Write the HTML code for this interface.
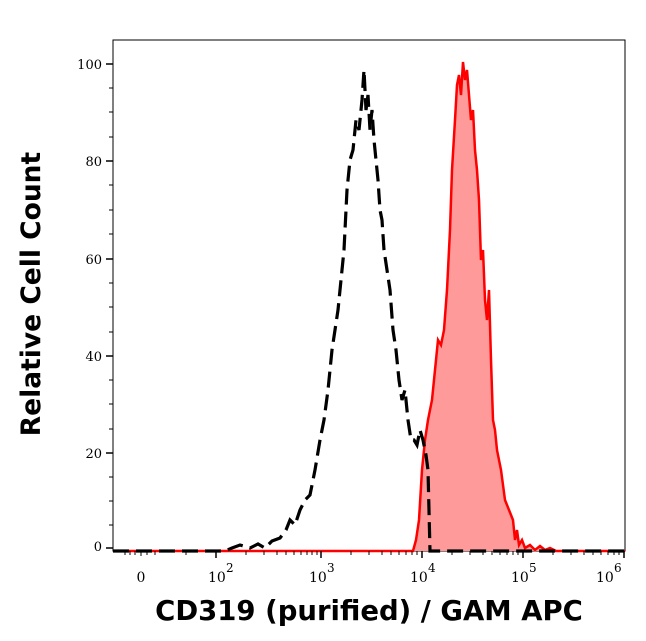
<!DOCTYPE html>
<html><head><meta charset="utf-8"><style>
body{margin:0;background:#fff;}
svg{display:block;font-family:"DejaVu Serif","Liberation Serif",serif;}
</style></head><body>
<svg width="646" height="641" viewBox="0 0 646 641" xmlns="http://www.w3.org/2000/svg">
<rect x="113" y="40" width="512" height="511" fill="none" stroke="#000" stroke-width="1"/>
<path d="M413,551 L416,540 L419,520 L422,470 L425,440 L428,420 L432,400 L435,370 L438,340 L441,345 L444,330 L447,290 L450,230 L452,170 L455,120 L457,85 L459,75 L461,95 L463,62 L465,80 L467,70 L469,95 L471,120 L473,110 L475,150 L477,170 L479,200 L481,260 L483,250 L485,300 L487,320 L489,290 L491,360 L493,420 L495,430 L497,450 L499,460 L501,470 L503,485 L505,500 L507,505 L509,510 L511,515 L513,520 L515,540 L517,530 L519,545 L522,540 L525,548 L530,545 L535,550 L540,546 L545,550 L550,548 L556,551 Z" fill="#ff9a9a" stroke="none"/>
<polyline points="113,551 413,551 416,540 419,520 422,470 425,440 428,420 432,400 435,370 438,340 441,345 444,330 447,290 450,230 452,170 455,120 457,85 459,75 461,95 463,62 465,80 467,70 469,95 471,120 473,110 475,150 477,170 479,200 481,260 483,250 485,300 487,320 489,290 491,360 493,420 495,430 497,450 499,460 501,470 503,485 505,500 507,505 509,510 511,515 513,520 515,540 517,530 519,545 522,540 525,548 530,545 535,550 540,546 545,550 550,548 556,551 625,551" fill="none" stroke="#f00" stroke-width="2.5"/>
<polyline points="113,551 225,551 232,548 240,545 250,548 258,544 265,548 272,541 280,538 286,530 290,520 295,525 300,510 305,500 310,495 315,470 320,440 324,420 328,390 332,350 335,330 338,310 341,280 344,250 347,190 350,160 353,150 356,120 359,130 362,100 364,70 366,110 368,95 370,130 372,110 374,140 376,160 378,180 380,210 382,220 384,250 387,270 390,290 393,330 396,350 399,380 402,400 405,390 408,420 411,440 414,440 417,445 420,430 423,440 426,455 428,470 430,551 440,551 625,551" fill="none" stroke="#000" stroke-width="3.2" stroke-dasharray="16,7"/>
<g stroke="#000" stroke-width="1.5">
<line x1="106" y1="64" x2="113" y2="64"/><line x1="106" y1="161" x2="113" y2="161"/><line x1="106" y1="259" x2="113" y2="259"/><line x1="106" y1="356" x2="113" y2="356"/><line x1="106" y1="453" x2="113" y2="453"/><line x1="106" y1="548" x2="113" y2="548"/>
</g>
<g stroke="#000" stroke-width="1">
<line x1="109" y1="88" x2="113" y2="88"/><line x1="109" y1="112" x2="113" y2="112"/><line x1="109" y1="137" x2="113" y2="137"/>
<line x1="109" y1="185" x2="113" y2="185"/><line x1="109" y1="210" x2="113" y2="210"/><line x1="109" y1="234" x2="113" y2="234"/>
<line x1="109" y1="283" x2="113" y2="283"/><line x1="109" y1="307" x2="113" y2="307"/><line x1="109" y1="332" x2="113" y2="332"/>
<line x1="109" y1="380" x2="113" y2="380"/><line x1="109" y1="404" x2="113" y2="404"/><line x1="109" y1="429" x2="113" y2="429"/>
<line x1="109" y1="477" x2="113" y2="477"/><line x1="109" y1="501" x2="113" y2="501"/><line x1="109" y1="525" x2="113" y2="525"/>
</g>
<g font-size="13" text-anchor="end" fill="#000">
<text x="102" y="69">100</text><text x="102" y="166">80</text><text x="102" y="264">60</text><text x="102" y="361">40</text><text x="102" y="458">20</text><text x="102" y="551">0</text>
</g>
<g stroke="#000" stroke-width="1.5">
<line x1="216" y1="551" x2="216" y2="558"/><line x1="321" y1="551" x2="321" y2="558"/><line x1="422" y1="551" x2="422" y2="558"/><line x1="523" y1="551" x2="523" y2="558"/><line x1="624" y1="551" x2="624" y2="558"/>
</g>
<g stroke="#000" stroke-width="1">
<line x1="246" y1="551" x2="246" y2="555"/><line x1="264" y1="551" x2="264" y2="555"/><line x1="277" y1="551" x2="277" y2="555"/><line x1="286" y1="551" x2="286" y2="555"/><line x1="294" y1="551" x2="294" y2="555"/><line x1="301" y1="551" x2="301" y2="555"/><line x1="307" y1="551" x2="307" y2="555"/><line x1="312" y1="551" x2="312" y2="555"/><line x1="317" y1="551" x2="317" y2="555"/>
<line x1="351" y1="551" x2="351" y2="555"/><line x1="369" y1="551" x2="369" y2="555"/><line x1="382" y1="551" x2="382" y2="555"/><line x1="391" y1="551" x2="391" y2="555"/><line x1="399" y1="551" x2="399" y2="555"/><line x1="406" y1="551" x2="406" y2="555"/><line x1="412" y1="551" x2="412" y2="555"/><line x1="417" y1="551" x2="417" y2="555"/>
<line x1="452" y1="551" x2="452" y2="555"/><line x1="470" y1="551" x2="470" y2="555"/><line x1="483" y1="551" x2="483" y2="555"/><line x1="492" y1="551" x2="492" y2="555"/><line x1="500" y1="551" x2="500" y2="555"/><line x1="507" y1="551" x2="507" y2="555"/><line x1="513" y1="551" x2="513" y2="555"/><line x1="518" y1="551" x2="518" y2="555"/>
<line x1="553" y1="551" x2="553" y2="555"/><line x1="571" y1="551" x2="571" y2="555"/><line x1="584" y1="551" x2="584" y2="555"/><line x1="593" y1="551" x2="593" y2="555"/><line x1="601" y1="551" x2="601" y2="555"/><line x1="608" y1="551" x2="608" y2="555"/><line x1="614" y1="551" x2="614" y2="555"/><line x1="619" y1="551" x2="619" y2="555"/>
<line x1="125" y1="551" x2="125" y2="555"/><line x1="130" y1="551" x2="130" y2="555"/><line x1="135" y1="551" x2="135" y2="555"/><line x1="141" y1="551" x2="141" y2="556"/><line x1="147" y1="551" x2="147" y2="555"/><line x1="155" y1="551" x2="155" y2="555"/><line x1="186" y1="551" x2="186" y2="555"/>
</g>
<g font-size="14" fill="#000">
<text x="141" y="582" text-anchor="middle">0</text>
<text x="208" y="582">10</text><text x="226" y="572" font-size="12">2</text>
<text x="309" y="582">10</text><text x="327" y="572" font-size="12">3</text>
<text x="410" y="582">10</text><text x="428" y="572" font-size="12">4</text>
<text x="511" y="582">10</text><text x="529" y="572" font-size="12">5</text>
<text x="596" y="582">10</text><text x="614" y="572" font-size="12">6</text>
</g>
<text x="369" y="620" font-family="'DejaVu Sans','Liberation Sans',sans-serif" font-weight="bold" font-size="27.5" text-anchor="middle">CD319 (purified) / GAM APC</text>
<text transform="translate(40,294) rotate(-90)" font-family="'DejaVu Sans','Liberation Sans',sans-serif" font-weight="bold" font-size="26.5" text-anchor="middle">Relative Cell Count</text>
</svg>
</body></html>
